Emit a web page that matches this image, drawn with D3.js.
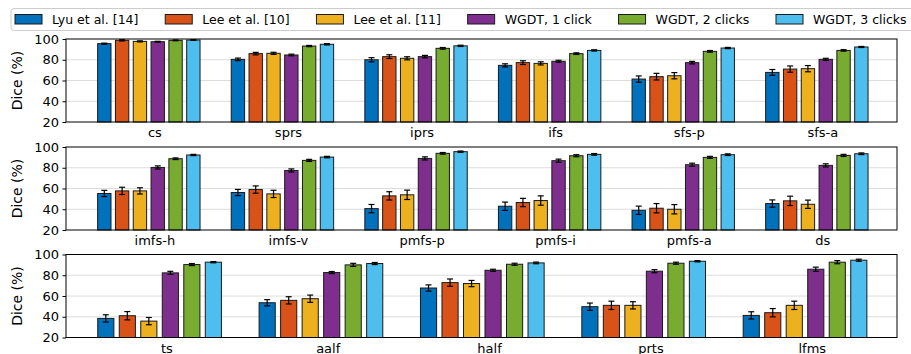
<!DOCTYPE html>
<html>
<head>
<meta charset="utf-8">
<script src="https://cdn.jsdelivr.net/npm/d3@7"></script>
<style>
  body { margin: 0; background: #fff; }
  svg { font-family: "DejaVu Sans", sans-serif; }
</style>
</head>
<body>
<div id="chart"></div>
<script>
const methods = ["Lyu et al. [14]", "Lee et al. [10]", "Lee et al. [11]", "WGDT, 1 click", "WGDT, 2 clicks", "WGDT, 3 clicks"];
const colors = ["#0072BD", "#D95319", "#EDB120", "#7E2F8E", "#77AC30", "#4DBEEE"];
const yTicks = [20, 40, 60, 80, 100];

// panel 1
const cats1 = ["cs", "sprs", "iprs", "ifs", "sfs-p", "sfs-a"];
const vals1 = [
  [95.5, 80.4, 80.0, 74.6, 61.4, 67.8],
  [98.7, 85.9, 83.0, 77.2, 63.7, 71.0],
  [97.7, 86.2, 81.4, 76.5, 64.6, 71.4],
  [97.4, 84.6, 83.0, 78.5, 77.2, 80.4],
  [98.7, 93.2, 91.0, 85.9, 88.1, 89.0],
  [99.0, 94.9, 93.4, 89.0, 91.3, 92.3]
];
const errs1 = [
  [0.5, 1.2, 2.0, 1.5, 3.0, 2.8],
  [0.6, 1.2, 1.8, 1.8, 3.2, 3.0],
  [0.5, 1.0, 1.5, 1.5, 3.0, 3.0],
  [0.4, 0.8, 1.2, 1.0, 1.2, 1.0],
  [0.4, 0.6, 0.8, 0.8, 0.8, 0.7],
  [0.3, 0.6, 0.6, 0.6, 0.6, 0.5]
];

// panel 2
const cats2 = ["imfs-h", "imfs-v", "pmfs-p", "pmfs-i", "pmfs-a", "ds"];
const vals2 = [
  [55.2, 56.1, 40.6, 42.9, 39.0, 45.5],
  [57.7, 59.0, 52.9, 46.5, 41.0, 48.1],
  [57.7, 54.8, 53.9, 48.4, 40.0, 44.8],
  [80.3, 77.4, 89.0, 86.8, 82.9, 82.3],
  [88.7, 87.1, 93.9, 91.6, 90.0, 91.9],
  [92.3, 90.3, 95.5, 92.9, 92.6, 93.5]
];
const errs2 = [
  [3.0, 3.0, 4.0, 4.0, 4.0, 3.5],
  [3.5, 3.5, 4.0, 4.0, 4.5, 4.5],
  [3.0, 3.5, 4.5, 4.5, 4.5, 4.0],
  [1.5, 1.5, 1.5, 1.5, 1.5, 1.5],
  [0.8, 1.0, 0.8, 1.0, 1.0, 1.0],
  [0.6, 0.7, 0.6, 0.8, 0.8, 0.8]
];

// panel 3
const cats3 = ["ts", "aalf", "half", "prts", "lfms"];
const vals3 = [
  [38.4, 53.5, 67.7, 49.7, 41.3],
  [41.0, 55.8, 72.9, 51.0, 43.9],
  [35.8, 57.4, 72.0, 51.0, 51.0],
  [82.3, 82.6, 84.8, 83.9, 85.8],
  [90.3, 90.0, 90.6, 91.6, 92.6],
  [92.6, 91.3, 91.9, 93.5, 94.5]
];
const errs3 = [
  [3.5, 3.0, 3.0, 3.5, 3.5],
  [4.0, 3.5, 3.5, 4.0, 4.0],
  [3.5, 3.5, 3.0, 3.5, 4.0],
  [1.5, 1.0, 1.0, 1.5, 2.0],
  [1.0, 1.5, 1.0, 1.0, 1.5],
  [0.6, 1.0, 0.8, 0.6, 1.0]
];

const panels = [
  {cats: cats1, vals: vals1, errs: errs1, top: 39, xdom: [-0.62, 5.6]},
  {cats: cats2, vals: vals2, errs: errs2, top: 147, xdom: [-0.62, 5.6]},
  {cats: cats3, vals: vals3, errs: errs3, top: 254.5, xdom: [-0.58, 4.57]}
];

const W = 911, H = 354;
const left = 66, right = 897, ph = 83;
const pitch = 0.1333, bw = 0.1;

const svg = d3.select("#chart").append("svg")
  .attr("width", W).attr("height", H);

panels.forEach(p => {
  let x = d3.scaleLinear().domain(p.xdom).range([left, right]);
  let y = d3.scaleLinear().domain([20, 100]).range([p.top + ph, p.top]);
  let g = svg.append("g");

  // grid
  g.selectAll(".grid")
    .data([40, 60, 80])
    .join("line")
    .attr("x1", left).attr("x2", right)
    .attr("y1", d => y(d)).attr("y2", d => y(d))
    .attr("stroke", "#dcdcdc")
    .attr("stroke-width", 1);

  methods.forEach((m, j) => {
    let rows = p.cats.map((c, i) => ({i: i, v: p.vals[j][i], e: p.errs[j][i]}));
    let cx = d => x(d.i + (j - 2.5) * pitch);

    g.selectAll(".bar" + j)
      .data(rows)
      .join("rect")
      .attr("x", d => x(d.i + (j - 2.5) * pitch - bw / 2))
      .attr("width", x(bw) - x(0))
      .attr("y", d => y(d.v))
      .attr("height", d => y(20) - y(d.v))
      .attr("fill", colors[j])
      .attr("stroke", "#1a1a1a")
      .attr("stroke-width", 1);

    g.selectAll(".err" + j)
      .data(rows)
      .join("line")
      .attr("x1", cx).attr("x2", cx)
      .attr("y1", d => y(d.v - d.e)).attr("y2", d => y(d.v + d.e))
      .attr("stroke", "#000").attr("stroke-width", 1.2);

    [-1, 1].forEach(s => {
      g.selectAll(".cap" + j + s)
        .data(rows)
        .join("line")
        .attr("x1", d => cx(d) - 3).attr("x2", d => cx(d) + 3)
        .attr("y1", d => y(d.v + s * d.e)).attr("y2", d => y(d.v + s * d.e))
        .attr("stroke", "#000").attr("stroke-width", 1.2);
    });
  });

  // frame
  g.append("rect")
    .attr("x", left).attr("y", p.top)
    .attr("width", right - left).attr("height", ph)
    .attr("fill", "none").attr("stroke", "#000").attr("stroke-width", 1);

  // y axis
  let ya = g.append("g")
    .attr("transform", "translate(" + left + ",0)")
    .call(d3.axisLeft(y).tickValues(yTicks).tickSize(3.5).tickPadding(3.5).tickSizeOuter(0));
  ya.select(".domain").remove();
  ya.selectAll("text").attr("font-size", 13).attr("fill", "#000").attr("font-family", "DejaVu Sans");

  // x labels
  g.selectAll(".xl")
    .data(p.cats)
    .join("text")
    .attr("x", (d, i) => x(i + 0.045))
    .attr("y", p.top + ph + 15)
    .attr("text-anchor", "middle")
    .attr("font-size", 13)
    .text(d => d);

  g.append("text")
    .attr("transform", "translate(22," + (p.top + ph / 2) + ") rotate(-90)")
    .attr("text-anchor", "middle")
    .attr("font-size", 14)
    .text("Dice (%)");
});

// legend
let lg = svg.append("g");
lg.append("rect")
  .attr("x", 11).attr("y", 8.5)
  .attr("width", 910).attr("height", 22)
  .attr("rx", 3)
  .attr("fill", "#fff").attr("stroke", "#cccccc").attr("stroke-width", 1);

let items = methods.map((m, j) => {
  lg.append("rect")
    .attr("class", "lpatch")
    .attr("y", 14.5)
    .attr("width", 27).attr("height", 9.5)
    .attr("fill", colors[j]).attr("stroke", "#1a1a1a").attr("stroke-width", 1);
  let t = lg.append("text")
    .attr("y", 23.5)
    .attr("font-size", 12.5)
    .text(m);
  return t.node().getComputedTextLength();
});
// spread columns so the last one starts at 776 like the reference
let lastStart = 776, firstStart = 15;
let used = d3.sum(items.slice(0, 5)) + 5 * 37;
let colSpace = (lastStart - firstStart - used) / 5;
let lx = firstStart;
lg.selectAll(".lpatch").each(function(d, j) {
  d3.select(this).attr("x", lx);
  lg.selectAll("text").filter((dd, k) => k === j).attr("x", lx + 37);
  lx = lx + 37 + items[j] + colSpace;
});
</script>
</body>
</html>
